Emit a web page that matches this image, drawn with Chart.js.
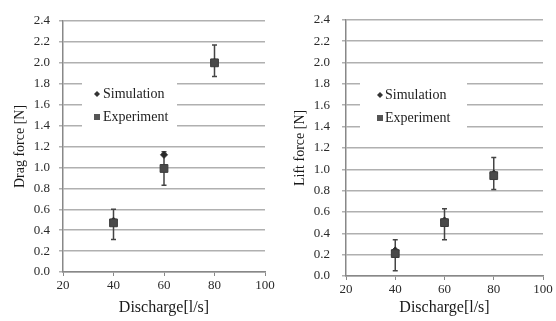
<!DOCTYPE html>
<html lang="en">
<head>
  <meta charset="UTF-8" />
  <title>Drag and lift force vs discharge</title>
  <script src="https://cdn.jsdelivr.net/npm/chart.js"></script>
  <style>
    body { margin: 0; background: #fff; }
    .box { position: absolute; top: 0; width: 278px; height: 321px; }
  </style>
</head>
<body>
  <div class="box" style="left:0"><canvas id="drag" width="278" height="321"></canvas></div>
  <div class="box" style="left:278px"><canvas id="lift" width="278" height="321"></canvas></div>

  <script>
    // discharge in l/s
    const discharge = [40, 60, 80];

    const dragSim = [0.49, 1.12, 2.01];
    const dragExp = [0.47, 0.99, 2.00];
    const dragErrLow = [0.31, 0.83, 1.87];
    const dragErrHigh = [0.60, 1.15, 2.17];

    const liftSim = [0.24, 0.52, 0.96];
    const liftExp = [0.21, 0.50, 0.94];
    const liftErrLow = [0.05, 0.34, 0.81];
    const liftErrHigh = [0.34, 0.63, 1.11];

    const xMin = 20, xMax = 100, xStep = 20;
    const yMin = 0, yMax = 2.4, yStep = 0.2;

    const serif = "'Liberation Serif', 'DejaVu Serif', serif";

    // white legend box inside the plot + error bars of the experiment
    const extras = {
      id: 'extras',
      beforeDatasetsDraw(chart, args, opts) {
        const ctx = chart.ctx;
        const xs = chart.scales.x, ys = chart.scales.y;
        ctx.save();
        ctx.fillStyle = '#fff';
        ctx.fillRect(opts.box[0], opts.box[1], opts.box[2], opts.box[3]);

        ctx.fillStyle = '#333';
        ctx.beginPath();
        const mx = opts.markerX, y1 = opts.rowY[0], y2 = opts.rowY[1];
        ctx.moveTo(mx, y1 - 3); ctx.lineTo(mx + 3, y1); ctx.lineTo(mx, y1 + 3); ctx.lineTo(mx - 3, y1);
        ctx.closePath();
        ctx.fill();
        ctx.fillStyle = '#555';
        ctx.fillRect(mx - 3, y2 - 3, 6, 6);

        ctx.fillStyle = '#222';
        ctx.font = '14px ' + serif;
        ctx.textBaseline = 'middle';
        ctx.fillText('Simulation', opts.textX, y1);
        ctx.fillText('Experiment', opts.textX, y2);

        ctx.strokeStyle = '#444';
        ctx.lineWidth = 1.5;
        opts.low.forEach((lo, i) => {
          const px = xs.getPixelForValue(discharge[i]);
          const pLo = ys.getPixelForValue(lo);
          const pHi = ys.getPixelForValue(opts.high[i]);
          ctx.beginPath();
          ctx.moveTo(px, pLo); ctx.lineTo(px, pHi);
          ctx.moveTo(px - 2.5, pLo); ctx.lineTo(px + 2.5, pLo);
          ctx.moveTo(px - 2.5, pHi); ctx.lineTo(px + 2.5, pHi);
          ctx.stroke();
        });
        ctx.restore();
      }
    };

    function makeChart(id, yTitle, sim, exp, low, high, lay) {
      const ctx = document.getElementById(id).getContext('2d');
      new Chart(ctx, {
        type: 'scatter',
        data: {
          datasets: [
            {
              label: 'Experiment',
              data: discharge.map((x, i) => ({ x: x, y: exp[i] })),
              pointStyle: 'rect',
              pointRadius: 5.5,
              backgroundColor: '#4a4a4a',
              borderColor: '#3a3a3a',
              borderWidth: 1
            },
            {
              label: 'Simulation',
              data: discharge.map((x, i) => ({ x: x, y: sim[i] })),
              pointStyle: 'rectRot',
              pointRadius: 3.5,
              backgroundColor: '#2a2a2a',
              borderColor: '#2a2a2a',
              borderWidth: 1
            }
          ]
        },
        options: {
          responsive: false,
          animation: false,
          layout: { padding: { left: 0, right: lay.right, top: lay.top, bottom: 0 } },
          plugins: {
            legend: { display: false },
            tooltip: { enabled: false },
            extras: { box: lay.box, markerX: lay.markerX, textX: lay.textX, rowY: lay.rowY, low: low, high: high }
          },
          scales: {
            x: {
              type: 'linear',
              min: xMin, max: xMax,
              afterFit: s => { s.height = lay.xh; },
              ticks: { stepSize: xStep, color: '#2a2a2a', font: { family: serif, size: 13 }, padding: 2 },
              grid: { drawOnChartArea: false, tickLength: 4, color: '#888' },
              border: { color: '#888', width: 1.5 },
              title: { display: true, text: 'Discharge[l/s]', color: '#1a1a1a', font: { family: serif, size: 16 }, padding: { top: 0 } }
            },
            y: {
              min: yMin, max: yMax,
              afterFit: s => { s.width = lay.yw; },
              ticks: { stepSize: yStep, color: '#2a2a2a', font: { family: serif, size: 13 }, padding: lay.tp,
                       callback: v => v.toFixed(1) },
              grid: { color: '#b0b0b0', lineWidth: 1.5, tickLength: 4 },
              border: { color: '#888', width: 1.5 },
              title: { display: true, text: yTitle, color: '#1a1a1a', font: { family: serif, size: 14 }, padding: { top: lay.tt, bottom: 0 } }
            }
          }
        },
        plugins: [extras]
      });
    }

    makeChart('drag', 'Drag force [N]', dragSim, dragExp, dragErrLow, dragErrHigh,
      { right: 13, top: 21, xh: 49, yw: 63, tp: 9, tt: 12, box: [82, 72, 95, 66], markerX: 97, textX: 103, rowY: [94, 117] });
    makeChart('lift', 'Lift force [N]', liftSim, liftExp, liftErrLow, liftErrHigh,
      { right: 13, top: 19, xh: 45, yw: 68, tp: 12, tt: 14, box: [82, 72, 107, 66], markerX: 102, textX: 107, rowY: [95, 118] });
  </script>
</body>
</html>
